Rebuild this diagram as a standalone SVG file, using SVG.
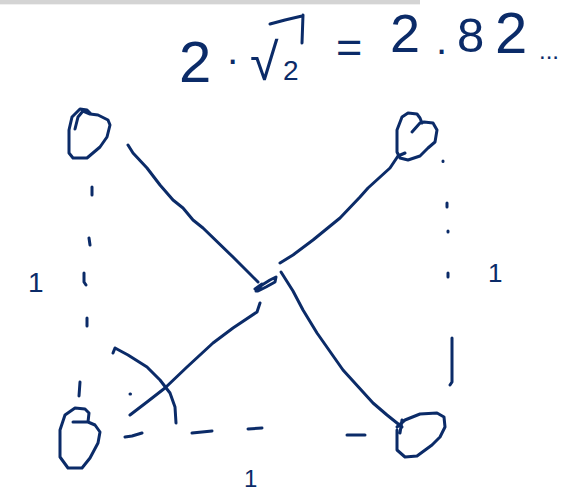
<svg xmlns="http://www.w3.org/2000/svg" width="581" height="494" viewBox="0 0 581 494">
<style>
.s{fill:none;stroke:#0b2b68;stroke-width:3;stroke-linecap:round;stroke-linejoin:round}
.t{fill:#0b2b68;font-family:"Liberation Sans","DejaVu Sans",sans-serif}
</style>
<rect x="0" y="0" width="581" height="494" fill="#ffffff"/>
<rect x="0" y="0" width="420" height="4" fill="#d4d4d4"/>
<rect x="0" y="4" width="420" height="1" fill="#f0f0f0"/>

<g id="formula">
<text class="t" x="179" y="82" font-size="58">2</text>
<text class="t" x="226" y="73" font-size="40">·</text>
<text class="t" x="250" y="80" font-size="52" font-family="DejaVu Sans, sans-serif">√</text>
<path class="s" d="M270,24 L285,20 L302,16 M303,15 L302,43"/>
<text class="t" x="283" y="80" font-size="28">2</text>
<text class="t" x="336" y="62" font-size="45">=</text>
<text class="t" x="390" y="52" font-size="54">2</text>
<text class="t" x="436" y="54" font-size="40">.</text>
<text class="t" x="457" y="52" font-size="49">8</text>
<text class="t" x="495" y="53" font-size="58">2</text>
<text class="t" x="539" y="59" font-size="24">...</text>
</g>

<g id="connectors">
<path class="s" d="M128,145 L133,153 L147,168 L160,185 L173,200 L183,208 L193,220 L203,228 L233,257 L258,282"/>
<path class="s" d="M260,303 L257,312 L233,328 L213,343 L187,367 L165,388 L147,402 L130,415"/>
<path class="s" d="M280,263 L293,255 L313,240 L340,218 L360,197 L368,188 L390,168 L398,156 L405,153"/>
<path class="s" d="M281,272 L293,291 L303,310 L317,333 L343,370 L373,403 L387,415 L402,427"/>
<path class="s" d="M256,291 L262,285 L270,280 L276,277 L275,282 L266,287 L258,291 Z"/>
<path class="s" d="M255,289 L262,284" stroke-width="6"/>
<g id="edge-left">
<path class="s" d="M92,187 L92,195 M89,238 L90,245 M84,273 L84,282 L86,285 M87,318 L87,326 M80,382 L79,396"/>
</g>
<g id="edge-bottom">
<path class="s" d="M125,437 L132,436 L142,433 M192,433 L212,431 M248,429 L262,428 M347,435 L365,435"/>
</g>
<g id="edge-right">
<path class="s" d="M443,161 L443,161.5 M447,203 L447,207 M448,231 L448,232 M448,273 L448,277 M452,338 L452,382 L450,385"/>
</g>
<path class="s" d="M113,353 L115,348 L128,355 L147,367 L160,380 L170,393 L175,407 L176,423"/>
<path class="s" d="M130,394 L130.5,394"/>
</g>

<g id="node-tl">
<path class="s" d="M75,129 L78,117 L83,111 L90,114 L98,115 L108,120 L110,125 L107,137 L100,147 L87,158 L73,158 L69,153 L69,130 L72,117 L80,109 L87,110 L91,114"/>
</g>
<g id="node-tr">
<path class="s" d="M412,132 L420,123 L424,122 L433,123 L437,130 L435,142 L428,148 L420,156 L408,160 L400,158 L397,152 L397,130 L402,117 L408,113 L417,114 L420,118 L422,123"/>
</g>
<g id="node-bl">
<path class="s" d="M73,422 L88,422 L89,413 L85,409 L75,408 L65,415 L60,430 L60,457 L68,468 L82,468 L90,458 L98,443 L100,432 L95,425 L88,422"/>
</g>
<g id="node-br">
<path class="s" d="M402,420 L400,433 M397,427 L405,420 L420,414 L437,413 L444,417 L445,427 L440,437 L432,445 L417,456 L405,457 L397,450 L397,430"/>
</g>

<g id="labels">
<text class="t" x="28" y="292" font-size="28">1</text>
<text class="t" x="244" y="487" font-size="24">1</text>
<text class="t" x="488" y="282" font-size="26">1</text>
</g>
</svg>
